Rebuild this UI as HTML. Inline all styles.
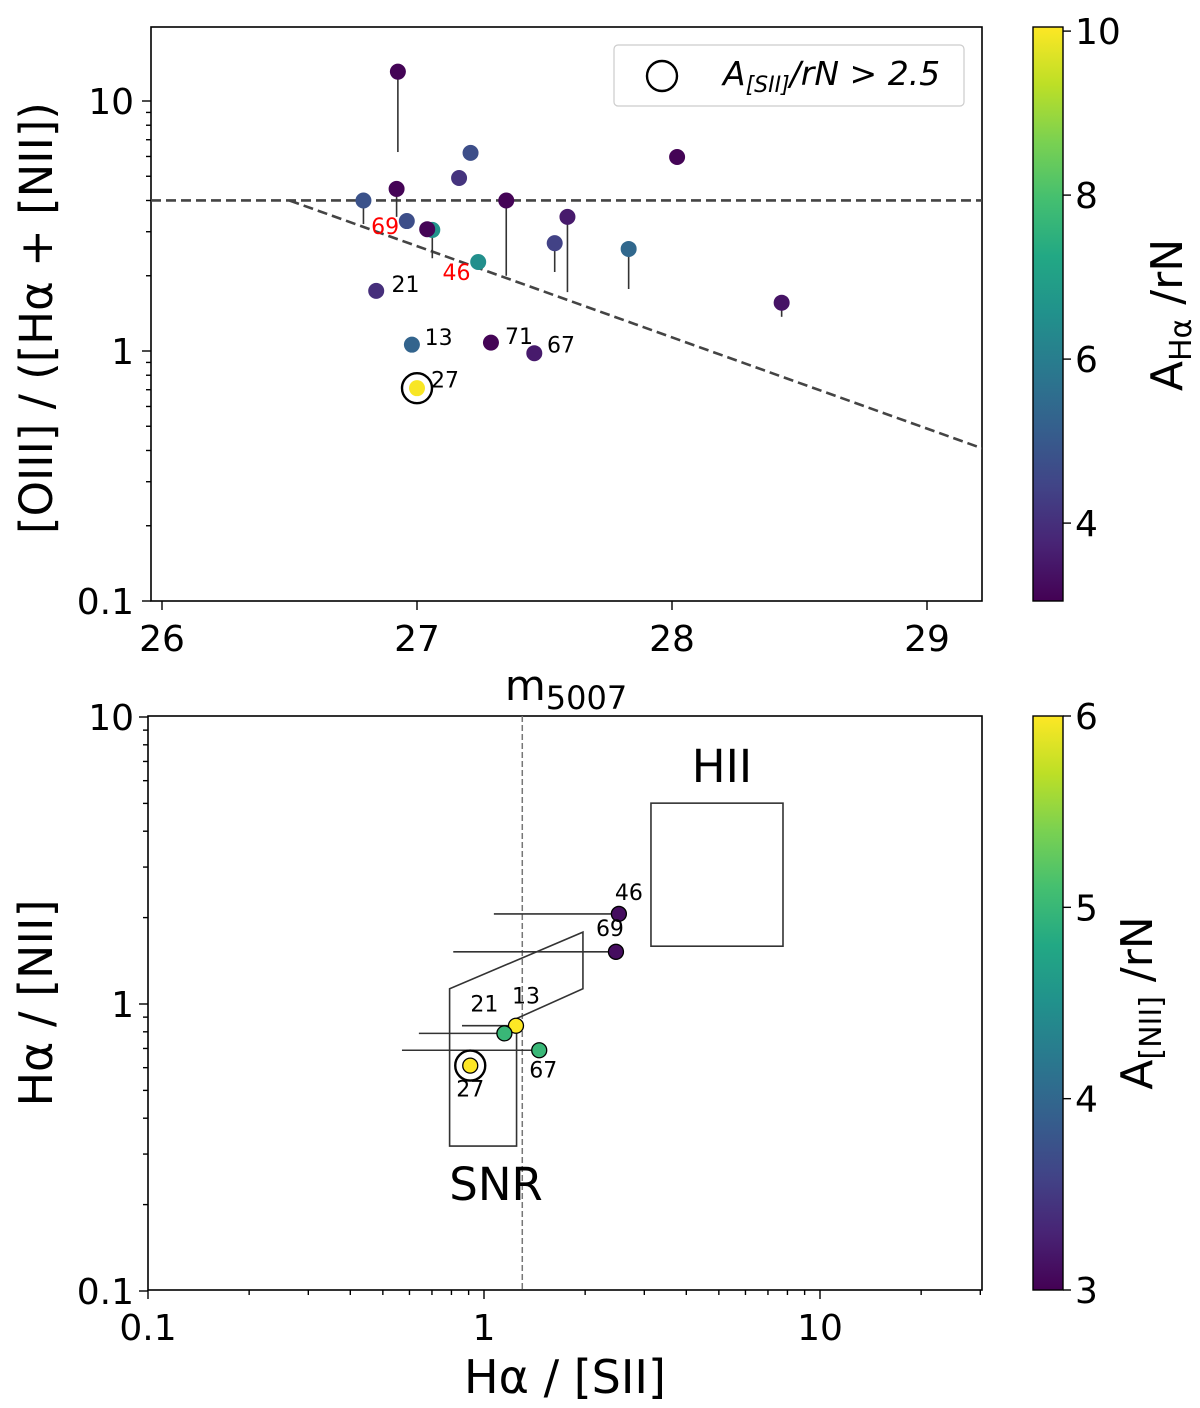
<!DOCTYPE html>
<html><head><meta charset="utf-8"><style>
body{margin:0;background:#fff}
svg{display:block;font-family:"DejaVu Sans","Liberation Sans",sans-serif}
</style></head><body>
<svg id="c" width="1200" height="1408" xmlns="http://www.w3.org/2000/svg">
<defs>
<linearGradient id="vir" x1="0" y1="1" x2="0" y2="0">
<stop offset="0" stop-color="#440154"/><stop offset=".1" stop-color="#482475"/><stop offset=".2" stop-color="#414487"/><stop offset=".3" stop-color="#355f8d"/><stop offset=".4" stop-color="#2a788e"/><stop offset=".5" stop-color="#21918c"/><stop offset=".6" stop-color="#22a884"/><stop offset=".7" stop-color="#44bf70"/><stop offset=".8" stop-color="#7ad151"/><stop offset=".9" stop-color="#bddf26"/><stop offset="1" stop-color="#fde725"/>
</linearGradient>
<clipPath id="topclip"><rect x="151" y="27" width="831" height="574"/></clipPath></defs>
<g id="top"></g>
<g id="bot"></g>
</svg>
<script>
// top panel data
const topMag=[26.925,26.79,26.92,26.96,27.06,27.04,27.165,27.21,27.24,27.35,27.54,27.59,27.83,26.84,26.98,27.29,27.46,27.0,28.02,28.43];
const topRatio=[13.1,4.0,4.45,3.31,3.05,3.07,4.92,6.2,2.27,4.0,2.70,3.44,2.56,1.74,1.06,1.08,0.98,0.71,5.97,1.56];
const topLow=[6.25,3.22,3.44,null,2.35,null,null,null,null,2.0,2.07,1.72,1.77,null,null,null,null,null,null,1.37];
const topColor=[3.1,4.8,3.1,4.7,6.6,3.1,4.1,4.7,6.5,3.1,4.4,3.55,5.4,4.0,5.3,3.1,3.55,10.0,3.1,3.4];
const topLabels=[["69",26.82,3.16,"red"],["46",27.10,2.07,"red"],["21",26.90,1.85,"#000"],["13",27.03,1.14,"#000"],["71",27.345,1.15,"#000"],["67",27.51,1.06,"#000"],["27",27.055,0.77,"#000"]];
const topCircled=[17];
const cutH=4.0, cutStart=26.5, cutEnd=[29.27,0.39];
const topXTicks=[26,27,28,29];
// bottom panel data
const botSII=[2.52,2.47,1.245,1.15,1.46,0.91];
const botNII=[2.06,1.52,0.84,0.79,0.69,0.61];
const botErrLeft=[1.07,0.81,0.86,0.64,0.57,null];
const botColor=[3.1,3.1,6.0,5.0,5.0,6.0];
const botLabels=["46","69","13","21","67","27"];
const botLabelOff=[[10,-14],[-6,-16],[10,-22],[-20,-22],[4,27],[0,31]];
const snrPoly=[[0.79,0.32],[0.79,1.13],[1.97,1.78],[1.97,1.13],[1.25,0.89],[1.25,0.32]];
const hiiBox=[3.14,7.76,1.59,5.01];
const vline=1.3;

const NS="http://www.w3.org/2000/svg";
const vs=["#440154","#482475","#414487","#355f8d","#2a788e","#21918c","#22a884","#44bf70","#7ad151","#bddf26","#fde725"];
function vir(t){t=Math.max(0,Math.min(1,t));const f=t*10,i=Math.min(9,Math.floor(f)),r=f-i;
 const a=vs[i],b=vs[i+1];const p=(s,k)=>parseInt(s.substr(1+2*k,2),16);
 return "rgb("+[0,1,2].map(k=>Math.round(p(a,k)+(p(b,k)-p(a,k))*r)).join(",")+")";}
function el(par,tag,at,txt){const e=document.createElementNS(NS,tag);for(const k in at)e.setAttribute(k,at[k]);if(txt!==undefined)e.textContent=txt;par.appendChild(e);return e;}
const TF=36;

// ===== TOP =====
const T=document.getElementById('top');
const tx=m=>162+(m-26)*255;
const ty=v=>351-Math.log10(v)*250;
el(T,'rect',{x:151,y:27,width:831,height:574,fill:'none',stroke:'#000','stroke-width':1.6});
for(let d=-1;d<=1;d++){for(let k=1;k<10;k++){const v=k*Math.pow(10,d);const y=ty(v);if(y<27||y>601.5)continue;
 el(T,'line',{x1:151,x2:151-(k==1?9:5),y1:y,y2:y,stroke:'#000','stroke-width':1.4});}}
[[0.1,"0.1"],[1,"1"],[10,"10"]].forEach(([v,s])=>{const t=el(T,'text',{x:134,y:ty(v)+13,'text-anchor':'end','font-size':TF},s);});
topXTicks.forEach(m=>{el(T,'line',{x1:tx(m),x2:tx(m),y1:601,y2:610,stroke:'#000','stroke-width':1.4});
 const t=el(T,'text',{x:tx(m),y:651,'text-anchor':'middle','font-size':TF},m);});
let t1=el(T,'text',{x:566,y:700,'text-anchor':'middle','font-size':42},'');t1.innerHTML='m<tspan font-size="32" dy="9">5007</tspan>';

let t2=el(T,'text',{transform:'translate(52,318) rotate(-90)','text-anchor':'middle','font-size':45},'[OIII] / ([Hα + [NII])');

let l1=el(T,'line',{x1:151,x2:982,y1:ty(cutH),y2:ty(cutH),stroke:'#444','stroke-width':2.6,'stroke-dasharray':'10 5'});

let l2=el(T,'line',{x1:tx(cutStart),y1:ty(cutH),x2:tx(cutEnd[0]),y2:ty(cutEnd[1]),stroke:'#444','stroke-width':2.6,'stroke-dasharray':'10 5','clip-path':'url(#topclip)'});

topMag.forEach((m,i)=>{if(topLow[i]){const e=el(T,'line',{x1:tx(m),x2:tx(m),y1:ty(topRatio[i]),y2:ty(topLow[i]),stroke:'#333','stroke-width':1.6});
 }});
topMag.forEach((m,i)=>{const c=el(T,'circle',{cx:tx(m),cy:ty(topRatio[i]),r:8,fill:vir((topColor[i]-3.05)/7)});
 });
topCircled.forEach(i=>{const c=el(T,'circle',{cx:tx(topMag[i]),cy:ty(topRatio[i]),r:15,fill:'none',stroke:'#000','stroke-width':2.4});
 });
topLabels.forEach(([s,m,v,col])=>{const t=el(T,'text',{x:tx(m),y:ty(v)+8,'font-size':22,fill:col},s);});
const lg=el(T,'g',{});
el(lg,'rect',{x:614,y:45,width:350,height:61,rx:4,fill:'#fff',stroke:'#ccc','stroke-width':1.2});
el(lg,'circle',{cx:662,cy:76,r:15,fill:'none',stroke:'#000','stroke-width':2.4});
let lt=el(lg,'text',{x:723,y:85,'font-size':33,'font-style':'italic'},'');lt.innerHTML='A<tspan font-size="22" dy="7">[SII]</tspan><tspan dy="-7">/rN &gt; 2.5</tspan>';
el(T,'rect',{x:1033,y:27,width:30,height:574,fill:'url(#vir)',stroke:'#000','stroke-width':1.4});
[4,6,8,10].forEach(v=>{const y=601-(v-3.05)*574/7;el(T,'line',{x1:1063,x2:1071,y1:y,y2:y,stroke:'#000','stroke-width':1.4});
 const t=el(T,'text',{x:1075,y:y+13,'font-size':TF},v);});
let ct=el(T,'text',{transform:'translate(1182,315) rotate(-90)','text-anchor':'middle','font-size':44},'');ct.innerHTML='A<tspan font-size="30" dy="9">Hα</tspan><tspan dy="-9"> /rN</tspan>';


// ===== BOTTOM =====
const B=document.getElementById('bot');
const bx=v=>484+Math.log10(v)*336;
const by=v=>1004-Math.log10(v)*287;
el(B,'rect',{x:148,y:716,width:834,height:574,fill:'none',stroke:'#000','stroke-width':1.6});
for(let d=-1;d<=1;d++){for(let k=1;k<10;k++){const v=k*Math.pow(10,d);
 const y=by(v);if(y>=715&&y<=1291)el(B,'line',{x1:148,x2:148-(k==1?9:5),y1:y,y2:y,stroke:'#000','stroke-width':1.4});
 const x=bx(v);if(x>=147&&x<=983)el(B,'line',{x1:x,x2:x,y1:1290,y2:1290+(k==1?9:5),stroke:'#000','stroke-width':1.4});}}
[[0.1,"0.1"],[1,"1"],[10,"10"]].forEach(([v,s])=>{const t=el(B,'text',{x:134,y:by(v)+13,'text-anchor':'end','font-size':TF},s);
 const u=el(B,'text',{x:bx(v),y:1340,'text-anchor':'middle','font-size':TF},s);});
let bt=el(B,'text',{x:565,y:1393,'text-anchor':'middle','font-size':46},'Hα / [SII]');
let byt=el(B,'text',{transform:'translate(52,1003) rotate(-90)','text-anchor':'middle','font-size':46},'Hα / [NII]');
let vl=el(B,'line',{x1:bx(vline),x2:bx(vline),y1:716,y2:1290,stroke:'#777','stroke-width':1.5,'stroke-dasharray':'6 3'});
let sp=el(B,'polygon',{points:snrPoly.map(p=>bx(p[0])+','+by(p[1])).join(' '),fill:'none',stroke:'#333','stroke-width':1.6});
let hb=el(B,'rect',{x:bx(hiiBox[0]),y:by(hiiBox[3]),width:bx(hiiBox[1])-bx(hiiBox[0]),height:by(hiiBox[2])-by(hiiBox[3]),fill:'none',stroke:'#333','stroke-width':1.6});
let h1=el(B,'text',{x:722,y:782,'text-anchor':'middle','font-size':45},'HII');
let h2=el(B,'text',{x:496,y:1200,'text-anchor':'middle','font-size':45},'SNR');
botSII.forEach((s,i)=>{if(botErrLeft[i]){const e=el(B,'line',{x1:bx(botErrLeft[i]),x2:bx(s),y1:by(botNII[i]),y2:by(botNII[i]),stroke:'#333','stroke-width':1.6});
 }});
botSII.forEach((s,i)=>{const c=el(B,'circle',{cx:bx(s),cy:by(botNII[i]),r:7.5,fill:vir((botColor[i]-3)/3),stroke:'#000','stroke-width':1.3});
 
 const t=el(B,'text',{x:bx(s)+botLabelOff[i][0],y:by(botNII[i])+botLabelOff[i][1],'text-anchor':'middle','font-size':22},botLabels[i]);
 });
let fr=el(B,'circle',{cx:bx(botSII[5]),cy:by(botNII[5]),r:15,fill:'none',stroke:'#000','stroke-width':2.4});
el(B,'rect',{x:1033,y:716,width:30,height:574,fill:'url(#vir)',stroke:'#000','stroke-width':1.4});
[3,4,5,6].forEach(v=>{const y=1290-(v-3)*574/3;el(B,'line',{x1:1063,x2:1071,y1:y,y2:y,stroke:'#000','stroke-width':1.4});
 const t=el(B,'text',{x:1075,y:y+13,'font-size':TF},v);});
let bct=el(B,'text',{transform:'translate(1152,1003) rotate(-90)','text-anchor':'middle','font-size':44},'');bct.innerHTML='A<tspan font-size="30" dy="9">[NII]</tspan><tspan dy="-9"> /rN</tspan>';

</script>
</body></html>
